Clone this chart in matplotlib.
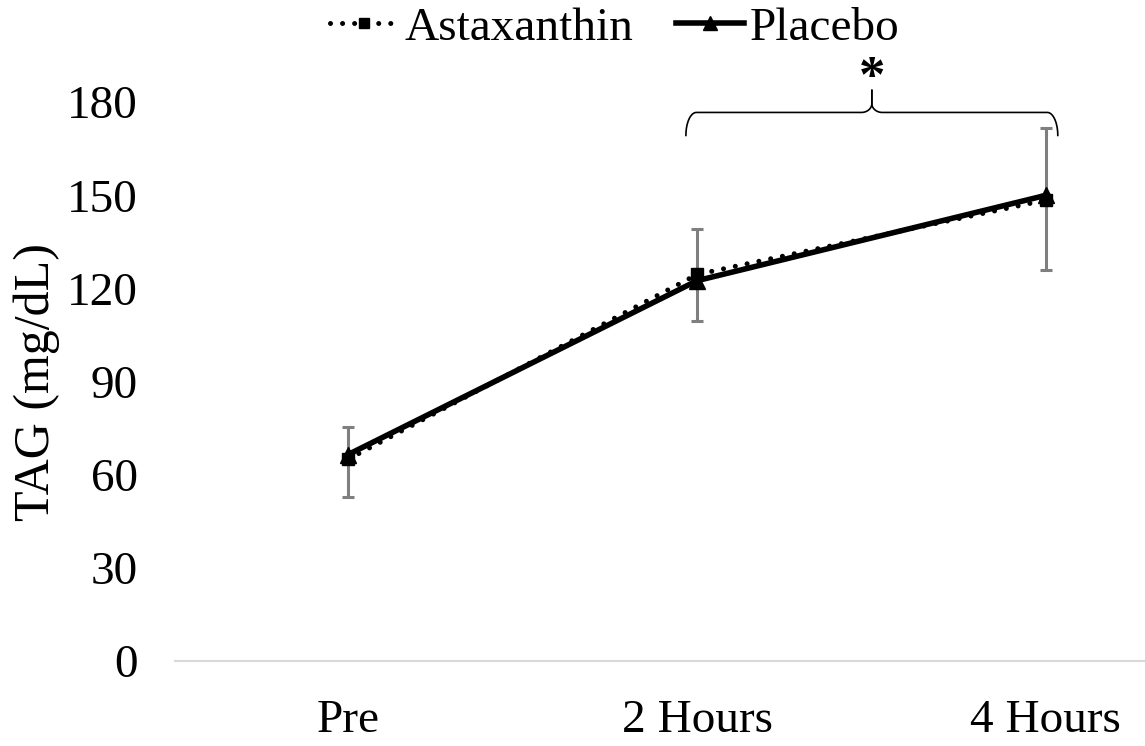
import numpy as np
import matplotlib.pyplot as plt

# --- Data ---
TIMEPOINTS = ['Pre', '2 Hours', '4 Hours']
ASTAXANTHIN = [65, 124.5, 148.5]
PLACEBO = [66.5, 122.5, 150]
ERR_CENTER = [64, 124.2, 148.8]
ERR_SIZE = [11.3, 14.8, 23]
Y_TICKS = [0, 30, 60, 90, 120, 150, 180]

plt.rcParams['font.family'] = ['Liberation Serif', 'DejaVu Serif']

fig = plt.figure(figsize=(11.45, 7.46), dpi=100)
ax = fig.add_axes([0.153, 0.114, 0.847, 0.749])

x = np.arange(len(TIMEPOINTS))

ax.errorbar(x, ERR_CENTER, yerr=ERR_SIZE, fmt='none', ecolor='#7f7f7f',
            elinewidth=2.2, capsize=4.5, capthick=2.2, zorder=2)
ax.plot(x, ASTAXANTHIN, linestyle=(0, (0.01, 2.4)), dash_capstyle='round',
        color='black', linewidth=3.6, marker='s', markersize=9,
        label='Astaxanthin', zorder=3, clip_on=False)
ax.plot(x, PLACEBO, linestyle='-', color='black', linewidth=4,
        marker='^', markersize=12, label='Placebo', zorder=4, clip_on=False)

ax.set_xlim(-0.496, 2.284)
ax.set_ylim(0, 180)
ax.set_yticks(Y_TICKS)
ax.set_xticks(x)
ax.set_xticklabels(TIMEPOINTS)
ax.tick_params(axis='y', length=0, pad=27, labelsize=34)
ax.tick_params(axis='x', length=0, pad=28, labelsize=34)
ax.set_ylabel('TAG (mg/dL)', fontsize=36, labelpad=5)

for side in ['top', 'right', 'left']:
    ax.spines[side].set_visible(False)
ax.spines['bottom'].set_color('#d9d9d9')
ax.spines['bottom'].set_linewidth(1.5)

# --- Significance brace between 2 Hours and 4 Hours ---
x0, x1 = 0.968, 2.034
y_end, y_bar, y_tip = 169.3, 176.7, 183.8
xm = (x0 + x1) / 2
r = 0.03
t = np.linspace(0, np.pi / 2, 20)
bx = np.concatenate([x0 + r - r * np.cos(t), [xm - r],
                     xm - r + r * np.sin(t), [xm]])
by = np.concatenate([y_end + (y_bar - y_end) * np.sin(t), [y_bar],
                     y_bar + (y_tip - y_bar) * (1 - np.cos(t)) * 0.4, [y_tip]])
ax.plot(bx, by, color='black', linewidth=1.2, clip_on=False)
ax.plot(2 * xm - bx, by, color='black', linewidth=1.2, clip_on=False)
ax.text(xm, y_tip - 0.5, '*', ha='center', va='baseline', fontsize=38,
        fontweight='bold')

leg = fig.legend(loc='center', bbox_to_anchor=(0.537, 0.962), ncol=2,
                 frameon=False, fontsize=34, handlelength=1.45,
                 handletextpad=0.12, columnspacing=0.9, markerscale=0.8,
                 borderaxespad=0, borderpad=0)

fig.savefig('out.png', dpi=100)
